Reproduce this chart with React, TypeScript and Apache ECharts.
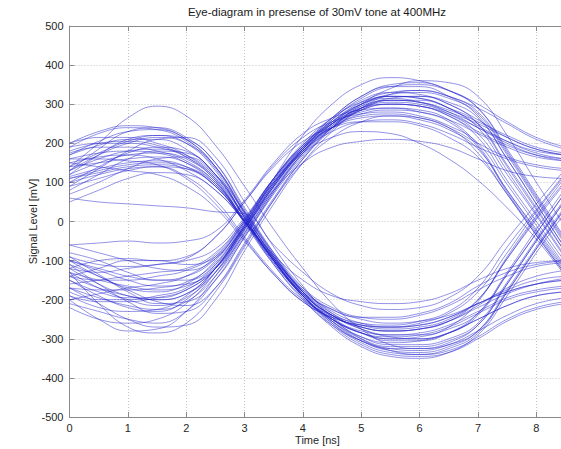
import React, { useEffect, useRef } from "react";
import * as echarts from "echarts";

// Sample times [ns]
const TIMES = [0, 0.5, 1, 1.5, 2, 2.5, 3, 3.5, 4, 4.5, 5, 5.5, 6, 6.5, 7, 7.5, 8, 8.5];

// Traces that start low and rise into the upper half of the eye [mV]
const RISING_TRACES: number[][] = [
  [-100, -140, -170, -180, -160, -100, 0, 110, 195, 250, 280, 290, 285, 260, 195, 80, -20, -120],
  [-150, -190, -220, -230, -200, -120, -10, 100, 190, 260, 310, 330, 325, 300, 260, 215, 185, 170],
  [-120, -130, -120, -110, -95, -40, 50, 145, 215, 255, 275, 280, 270, 245, 200, 95, -10, -115],
  [-200, -250, -280, -275, -230, -140, -30, 80, 175, 245, 290, 310, 305, 285, 255, 220, 190, 175],
  [-60, -55, -50, -55, -50, -25, 55, 150, 225, 265, 285, 290, 280, 255, 190, 75, -30, -130],
  [-180, -200, -200, -190, -170, -110, -5, 105, 195, 265, 320, 345, 345, 320, 270, 160, 45, -70],
  [-130, -170, -200, -215, -195, -130, -25, 85, 180, 250, 300, 320, 315, 290, 245, 205, 175, 160],
  [-90, -110, -115, -110, -100, -70, 10, 110, 190, 240, 265, 270, 260, 235, 185, 80, -25, -125],
  [-210, -230, -250, -260, -230, -150, -40, 70, 165, 240, 295, 325, 330, 315, 275, 170, 55, -60],
  [-160, -150, -140, -130, -120, -80, 5, 110, 195, 255, 295, 310, 305, 280, 240, 200, 170, 155],
  [-110, -160, -205, -235, -230, -170, -55, 60, 160, 235, 285, 310, 310, 290, 250, 145, 35, -80],
  [-140, -120, -100, -100, -110, -90, -5, 100, 180, 230, 255, 260, 250, 225, 190, 160, 140, 130],
  [-190, -220, -230, -225, -190, -120, -15, 95, 190, 265, 320, 350, 355, 335, 290, 180, 65, -50],
  [-100, -125, -150, -165, -160, -120, -20, 90, 180, 245, 285, 300, 295, 270, 230, 195, 170, 160],
  [-170, -210, -250, -270, -265, -200, -75, 45, 150, 230, 290, 325, 335, 320, 280, 175, 60, -55],
  [-120, -100, -95, -100, -90, -40, 50, 140, 205, 240, 255, 255, 245, 215, 165, 70, -35, -135],
  [-220, -250, -260, -250, -210, -130, -20, 90, 185, 260, 315, 345, 350, 335, 300, 255, 215, 190],
  [-150, -180, -195, -195, -175, -120, -15, 90, 180, 240, 275, 285, 280, 260, 225, 190, 165, 155],
  [-80, -100, -130, -150, -150, -110, -10, 100, 185, 240, 270, 275, 265, 240, 175, 70, -35, -135],
  [-200, -185, -170, -160, -140, -90, 0, 105, 190, 250, 290, 305, 300, 275, 225, 120, 15, -95],
  [-130, -150, -165, -175, -165, -115, -15, 95, 185, 255, 305, 330, 335, 320, 290, 250, 210, 185],
  [-170, -195, -215, -225, -205, -140, -35, 75, 170, 240, 290, 315, 320, 305, 265, 160, 45, -70],
  [-110, -140, -175, -205, -215, -170, -60, 55, 150, 215, 255, 270, 265, 240, 200, 165, 145, 135],
  [-130, -210, -270, -285, -260, -180, -65, 55, 160, 240, 300, 340, 360, 355, 320, 220, 100, -15],
  [-60, -80, -100, -120, -125, -95, -15, 80, 150, 190, 205, 210, 205, 190, 160, 130, 115, 110],
  [-140, -170, -190, -200, -185, -120, -10, 110, 220, 300, 350, 368, 360, 335, 290, 185, 70, -45],
  [-100, -120, -140, -150, -140, -95, 0, 100, 175, 215, 230, 225, 200, 160, 105, 35, -45, -140],
  [-170, -175, -175, -170, -155, -105, -10, 95, 185, 250, 290, 300, 295, 275, 240, 205, 180, 170],
  [-90, -135, -180, -210, -205, -150, -40, 75, 175, 250, 300, 320, 320, 300, 250, 140, 30, -80],
  [-140, -150, -150, -140, -125, -85, 5, 110, 200, 265, 305, 320, 315, 290, 240, 130, 20, -90],
  [-190, -205, -205, -195, -175, -120, -20, 90, 185, 255, 300, 315, 305, 280, 250, 215, 185, 170],
  [-120, -160, -190, -200, -185, -130, -30, 80, 175, 240, 285, 300, 295, 270, 215, 105, 0, -105],
];

// Traces that start high and fall into the lower half of the eye [mV]
const FALLING_TRACES: number[][] = [
  [120, 170, 210, 220, 200, 130, 10, -100, -190, -250, -285, -300, -295, -270, -205, -90, 15, 115],
  [150, 165, 170, 160, 130, 80, 0, -95, -175, -225, -250, -260, -255, -240, -210, -180, -160, -150],
  [100, 140, 175, 190, 180, 120, 15, -90, -180, -245, -285, -305, -305, -285, -235, -130, -20, 85],
  [180, 200, 205, 195, 165, 105, -5, -110, -195, -250, -280, -290, -285, -265, -230, -195, -175, -165],
  [60, 50, 45, 40, 35, 25, 20, -60, -130, -185, -215, -225, -220, -195, -140, -45, 45, 135],
  [130, 185, 230, 240, 215, 150, 30, -85, -185, -260, -310, -335, -340, -325, -285, -180, -70, 35],
  [160, 175, 180, 175, 150, 95, 0, -100, -185, -240, -270, -280, -275, -255, -220, -185, -160, -145],
  [110, 130, 145, 150, 140, 95, 5, -95, -180, -235, -265, -275, -270, -250, -200, -95, 10, 105],
  [200, 215, 215, 200, 170, 110, 0, -110, -200, -265, -305, -325, -330, -315, -280, -240, -210, -195],
  [140, 200, 265, 295, 270, 195, 90, -20, -120, -210, -275, -315, -325, -315, -280, -180, -70, 35],
  [90, 110, 130, 140, 135, 90, 0, -90, -170, -220, -245, -250, -240, -215, -175, -140, -115, -105],
  [170, 195, 210, 210, 185, 120, 10, -100, -190, -255, -300, -320, -320, -305, -265, -160, -50, 55],
  [120, 150, 170, 175, 160, 105, 0, -105, -190, -250, -285, -295, -290, -270, -235, -200, -180, -170],
  [150, 140, 130, 120, 90, 35, -50, -135, -205, -245, -265, -270, -260, -235, -180, -80, 25, 120],
  [190, 225, 240, 235, 205, 135, 20, -95, -195, -270, -320, -345, -350, -335, -295, -250, -220, -205],
  [80, 120, 160, 180, 175, 120, 15, -90, -180, -240, -275, -290, -290, -275, -235, -135, -30, 75],
  [160, 160, 155, 145, 110, 45, -45, -135, -205, -245, -265, -270, -265, -245, -210, -175, -150, -140],
  [130, 170, 200, 215, 200, 140, 25, -85, -180, -250, -295, -315, -315, -300, -260, -155, -45, 60],
  [100, 120, 135, 140, 115, 55, -40, -130, -200, -240, -260, -265, -255, -230, -170, -65, 30, 125],
  [175, 190, 190, 180, 155, 100, 0, -105, -190, -250, -285, -300, -300, -285, -250, -215, -190, -180],
  [140, 175, 205, 220, 210, 150, 35, -80, -180, -255, -305, -330, -335, -320, -280, -175, -65, 40],
  [115, 135, 150, 155, 140, 90, 0, -100, -180, -225, -245, -245, -235, -210, -165, -130, -110, -100],
  [200, 230, 245, 240, 210, 140, 25, -90, -190, -265, -315, -340, -345, -335, -300, -255, -225, -210],
  [90, 135, 180, 210, 215, 165, 50, -65, -165, -245, -300, -330, -340, -330, -290, -190, -80, 25],
  [50, 80, 110, 125, 120, 80, 0, -85, -150, -190, -205, -210, -205, -185, -150, -120, -105, -100],
  [130, 160, 180, 185, 170, 115, 10, -100, -185, -240, -270, -280, -275, -255, -200, -95, 5, 100],
  [140, 150, 160, 165, 150, 100, 5, -100, -185, -240, -270, -280, -275, -255, -215, -170, -140, -125],
  [170, 205, 230, 235, 210, 140, 20, -95, -190, -260, -305, -325, -325, -310, -265, -160, -50, 55],
  [110, 125, 140, 145, 135, 90, 0, -95, -175, -230, -260, -270, -265, -245, -210, -180, -160, -150],
  [190, 200, 200, 190, 165, 110, 10, -100, -190, -255, -295, -310, -305, -285, -240, -135, -30, 75],
  [70, 100, 135, 160, 165, 120, 25, -80, -170, -235, -275, -295, -300, -285, -250, -215, -190, -180],
];

const TITLE = "Eye-diagram in presense of 30mV tone at 400MHz";
const X_NAME = "Time [ns]";
const Y_NAME = "Signal Level [mV]";

const FONT = "Liberation Sans, Arial, Helvetica, sans-serif";
const AXIS_COLOR = "#8a8a8a";
const GRID_COLOR = "#c4c4c4";
const LINE_COLOR = "rgba(35,35,205,0.58)";

export default function App() {
  const ref = useRef<HTMLDivElement>(null);

  useEffect(() => {
    if (!ref.current) return;
    const chart = echarts.init(ref.current, undefined, { renderer: "svg" });
    const traces = [...RISING_TRACES, ...FALLING_TRACES];
    const series = traces.map((vals, i) => ({
      type: "line",
      name: "trace" + i,
      data: vals.map((v, k) => [TIMES[k], v]),
      smooth: 0.45,
      symbol: "none",
      showSymbol: false,
      lineStyle: { color: LINE_COLOR, width: 0.85 },
      silent: true,
      clip: true,
    }));

    const labelStyle = { color: "#262626", fontSize: 11, fontFamily: FONT };

    chart.setOption({
      animation: false,
      backgroundColor: "#ffffff",
      graphic: [
        {
          type: "text",
          x: 317,
          y: 12,
          style: {
            text: TITLE,
            textAlign: "center",
            textVerticalAlign: "middle",
            fontSize: 11.5,
            fontFamily: FONT,
            fill: "#1a1a1a",
          },
        },
      ],
      grid: { left: 69.5, top: 26, width: 496, height: 391, outerBoundsMode: "none", containLabel: false },
      xAxis: [
        {
          type: "value",
          min: 0,
          max: 8.5,
          interval: 1,
          name: X_NAME,
          nameLocation: "middle",
          nameGap: 17,
          nameMoveOverlap: false,
          nameTextStyle: { ...labelStyle },
          axisLine: { show: true, onZero: false, lineStyle: { color: AXIS_COLOR, width: 1 } },
          axisTick: { show: true, inside: true, length: 5, lineStyle: { color: AXIS_COLOR } },
          axisLabel: { ...labelStyle, margin: 5, showMaxLabel: false },
          splitLine: { show: true, lineStyle: { color: GRID_COLOR, type: [1, 2], width: 1 } },
        },
        {
          type: "value",
          position: "top",
          min: 0,
          max: 8.5,
          interval: 1,
          axisLine: { show: true, onZero: false, lineStyle: { color: AXIS_COLOR, width: 1 } },
          axisTick: { show: true, inside: true, length: 5, lineStyle: { color: AXIS_COLOR } },
          axisLabel: { show: false },
          splitLine: { show: false },
        },
      ],
      yAxis: [
        {
          type: "value",
          min: -500,
          max: 500,
          interval: 100,
          name: Y_NAME,
          nameLocation: "middle",
          nameGap: 31,
          nameMoveOverlap: false,
          nameTextStyle: { ...labelStyle },
          axisLine: { show: true, onZero: false, lineStyle: { color: AXIS_COLOR, width: 1 } },
          axisTick: { show: true, inside: true, length: 5, lineStyle: { color: AXIS_COLOR } },
          axisLabel: { ...labelStyle, margin: 6 },
          splitLine: { show: true, lineStyle: { color: GRID_COLOR, type: [1, 2], width: 1 } },
        },
      ],
      series,
    });

    return () => chart.dispose();
  }, []);

  return (
    <div
      ref={ref}
      style={{ position: "fixed", left: 0, top: 0, width: 561, height: 449, background: "#fff" }}
    />
  );
}
